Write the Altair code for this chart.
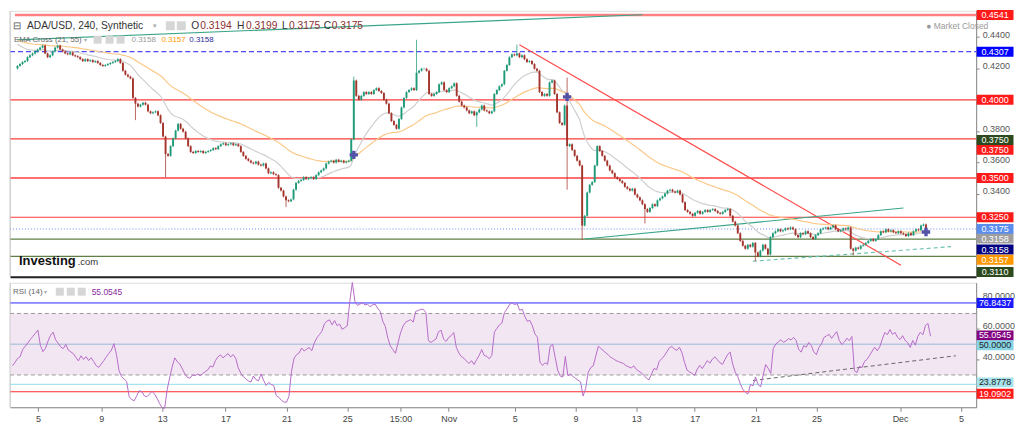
import altair as alt
import pandas as pd

FONT = "Liberation Sans"

# ---------------- data (4h candles, ADA/USD) ----------------
close = [
 0.4216,0.4228,0.4241,0.4247, 0.4272,0.4284,0.4296,0.4309, 0.4321,0.4333,0.4346,0.4296,
 0.4272,0.4284,0.4309,0.4333, 0.4346,0.4321,0.4309,0.4296, 0.4290,0.4303,0.4284,0.4278,
 0.4272,0.4259,0.4247,0.4259, 0.4247,0.4253,0.4241,0.4247, 0.4235,0.4222,0.4216,0.4222,
 0.4228,0.4235,0.4241,0.4247, 0.4259,0.4235,0.4185,0.4160, 0.4148,0.4136,0.4012,0.3975,
 0.3957,0.3969,0.3981,0.3969, 0.3926,0.3914,0.3920,0.3926, 0.3901,0.3852,0.3765,0.3654,
 0.3642,0.3704,0.3753,0.3803, 0.3846,0.3815,0.3796,0.3753, 0.3704,0.3667,0.3660,0.3673,
 0.3667,0.3673,0.3660,0.3667, 0.3673,0.3679,0.3691,0.3685, 0.3704,0.3716,0.3722,0.3710,
 0.3716,0.3722,0.3710,0.3716, 0.3704,0.3667,0.3642,0.3623, 0.3611,0.3599,0.3593,0.3605,
 0.3586,0.3580,0.3593,0.3562, 0.3531,0.3537,0.3525,0.3519, 0.3438,0.3420,0.3383,0.3358,
 0.3352,0.3364,0.3426,0.3469, 0.3482,0.3488,0.3506,0.3494, 0.3500,0.3506,0.3494,0.3519,
 0.3537,0.3549,0.3562,0.3593, 0.3605,0.3611,0.3599,0.3617, 0.3605,0.3611,0.3599,0.3605,
 0.3611,0.3747,0.4123,0.4025, 0.4000,0.4025,0.4049,0.4037, 0.4049,0.4037,0.4062,0.4074,
 0.4056,0.4043,0.4000,0.3975, 0.3914,0.3864,0.3840,0.3815, 0.3877,0.3951,0.4012,0.4049,
 0.4062,0.4074,0.4062,0.4173, 0.4185,0.4198,0.4198,0.4185, 0.4037,0.4025,0.4037,0.4049,
 0.4099,0.4111,0.4062,0.4049, 0.4074,0.4086,0.4105,0.4025, 0.3988,0.3963,0.3951,0.3932,
 0.3914,0.3926,0.3901,0.3920, 0.3938,0.3963,0.3932,0.3926, 0.3914,0.3926,0.4037,0.4062,
 0.4086,0.4099,0.4185,0.4222, 0.4272,0.4290,0.4284,0.4296, 0.4272,0.4284,0.4259,0.4241,
 0.4247,0.4228,0.4198,0.4185, 0.4049,0.4025,0.4037,0.4025, 0.4111,0.4123,0.4037,0.3920,
 0.3852,0.3840,0.3963,0.3704, 0.3716,0.3679,0.3642,0.3611, 0.3580,0.3197,0.3259,0.3408,
 0.3457,0.3475,0.3580,0.3704, 0.3673,0.3642,0.3611,0.3580, 0.3549,0.3531,0.3506,0.3494,
 0.3482,0.3469,0.3444,0.3432, 0.3420,0.3432,0.3395,0.3377, 0.3358,0.3333,0.3302,0.3284,
 0.3309,0.3333,0.3321,0.3358, 0.3370,0.3383,0.3401,0.3420, 0.3426,0.3414,0.3408,0.3420,
 0.3395,0.3346,0.3296,0.3284, 0.3272,0.3259,0.3278,0.3290, 0.3272,0.3284,0.3296,0.3284,
 0.3296,0.3302,0.3290,0.3278, 0.3272,0.3284,0.3296,0.3302, 0.3259,0.3222,0.3197,0.3148,
 0.3099,0.3068,0.3049,0.3074, 0.3062,0.3086,0.3025,0.3000, 0.3037,0.3074,0.3049,0.3012,
 0.3123,0.3148,0.3160,0.3173, 0.3160,0.3167,0.3179,0.3173, 0.3185,0.3173,0.3136,0.3123,
 0.3148,0.3142,0.3160,0.3148, 0.3123,0.3111,0.3136,0.3148, 0.3173,0.3179,0.3185,0.3173,
 0.3185,0.3197,0.3173,0.3160, 0.3167,0.3179,0.3173,0.3185, 0.3049,0.3037,0.3056,0.3049,
 0.3068,0.3074,0.3086,0.3099, 0.3111,0.3099,0.3111,0.3136, 0.3160,0.3154,0.3173,0.3160,
 0.3167,0.3154,0.3148,0.3160, 0.3148,0.3142,0.3130,0.3148, 0.3136,0.3160,0.3173,0.3167,
 0.3197,0.3204,0.3175,
]
first_open = 0.4200
wick_high = {134: 0.4148, 159: 0.4383, 199: 0.4352, 219: 0.4142}
wick_low = {47: 0.3870, 59: 0.3506, 107: 0.3315, 183: 0.3827, 219: 0.3426,
            225: 0.3105, 250: 0.3210, 294: 0.2969, 333: 0.3006}
ema21_seed, ema55_seed = 0.4370, 0.4385
rsi_seed_gain, rsi_seed_loss = 0.0009, 0.0016

tick_bars = [10, 35, 59, 84, 108, 132, 153, 172, 198, 222, 246, 269, 293, 317, 350, 374]
tick_labels = ["5", "9", "13", "17", "21", "25", "15:00", "Nov", "5", "9", "13", "17",
               "21", "25", "Dec", "5"]

cross_bars = [134, 219, 362]
cross_prices = [0.3648, 0.4018, 0.3156]

# horizontal levels: price, colour, width, dash
h_price = [0.4541, 0.4307, 0.4000, 0.3750, 0.3500, 0.3250, 0.3175, 0.3110, 0.3000]
h_color = ["#ff8080", "#4a4aff", "#ff3b3b", "#ff3b3b", "#ff6f6f", "#ff3b3b", "#6d8cf5", "#5f7f45", "#5f7f45"]
h_width = [2.5, 1.2, 1.2, 1.2, 2.0, 1.2, 1.0, 1.2, 1.2]
h_dash = [[], [5, 3], [], [], [], [], [1, 2], [], []]

# trend lines: bar0, price0, bar1, price1
t_b0 = [0, 200, 226, 293]
t_p0 = [0.4383, 0.4352, 0.3111, 0.2969]
t_b1 = [249, 352, 353, 372]
t_p1 = [0.4543, 0.2944, 0.3309, 0.3062]
t_color = ["#3aa58a", "#ff4a4a", "#3aa58a", "#6cc2b0"]
t_dash = [[], [], [], [4, 3]]

# right-hand price tags: text, value, background, shift(px)
tag_text = ["0.4541", "0.4307", "0.4000", "0.3750", "0.3750", "0.3500", "0.3250",
            "0.3175", "0.3158", "0.3158", "0.3157", "0.3110"]
tag_val = [0.4541, 0.4307, 0.4000, 0.3750, 0.3750, 0.3500, 0.3250,
           0.3175, 0.3158, 0.3158, 0.3157, 0.3110]
tag_bg = ["#ff1a1a", "#0000ff", "#ff1a1a", "#2d4a1e", "#ff1a1a", "#ff1a1a", "#ff1a1a",
          "#5b8def", "#9e9e9e", "#000080", "#ff9800", "#2d4a1e"]
tag_shift = [0, 0, 0, 1, 11, 0, 0, 0, 7, 18, 28, 33]

rsi_tag_text = ["76.8437", "55.0545", "50.0000", "23.8778", "19.0902"]
rsi_tag_val = [76.8437, 55.0545, 50.0, 23.8778, 19.0902]
rsi_tag_bg = ["#1a1aff", "#800080", "#86d4e4", "#a6e3ec", "#ff1a1a"]
rsi_tag_fg = ["white", "white", "#222", "#222", "white"]
rsi_tag_shift = [0, -1, 1, -2, 2]

# ---------------- derived ----------------
N = len(close)
opens = [first_open] + close[:-1]
highs, lows = [], []
for i, (o, c) in enumerate(zip(opens, close)):
    highs.append(wick_high.get(i, max(o, c) + 0.0006))
    lows.append(wick_low.get(i, min(o, c) - 0.0006))


def ema(vals, n, seed):
    a = 2 / (n + 1)
    e = seed
    out = []
    for v in vals:
        e = e + a * (v - e)
        out.append(e)
    return out


def rsi(vals, n, g0, l0):
    ag, al = g0, l0
    out = [100 - 100 / (1 + ag / al)]
    for k in range(1, len(vals)):
        d = vals[k] - vals[k - 1]
        ag = (ag * (n - 1) + max(d, 0)) / n
        al = (al * (n - 1) + max(-d, 0)) / n
        out.append(100 - 100 / (1 + ag / al) if al > 0 else 100)
    return out


df = pd.DataFrame({
    "i": list(range(N)), "open": opens, "high": highs, "low": lows, "close": close,
    "ema21": ema(close, 21, ema21_seed), "ema55": ema(close, 55, ema55_seed),
    "rsi": rsi(close, 14, rsi_seed_gain, rsi_seed_loss),
})

W, H1, H2 = 970, 267, 125
xscale = alt.Scale(domain=[-1, 380], nice=False, zero=False)
yscale = alt.Scale(domain=[0.2870, 0.4568], nice=False, zero=False)
rscale = alt.Scale(domain=[9, 90], nice=False, zero=False)

x_main_axis = alt.Axis(labels=False, ticks=False, title=None, grid=False,
                       domainColor="#222", domainWidth=2)
y_main_axis = alt.Axis(orient="right", values=[0.34, 0.36, 0.38, 0.42, 0.44], format=".4f",
                       labelColor="#555", labelFontSize=9, labelFont=FONT, tickSize=3,
                       tickColor="#888", domainColor="#888", grid=False, title=None,
                       labelPadding=3, labelOffset=-3)

label_expr = "".join(f"datum.value == {b} ? '{t}' : " for b, t in zip(tick_bars, tick_labels)) + "''"
x_rsi_axis = alt.Axis(values=tick_bars, labelExpr=label_expr, labelColor="#444",
                      labelFontSize=9, labelFont=FONT, tickSize=4, tickColor="#888",
                      domainColor="#888", grid=False, title=None, labelPadding=3)
y_rsi_axis = alt.Axis(orient="right", values=[40, 60, 80], format=".4f", labelColor="#555",
                      labelFontSize=9, labelFont=FONT, tickSize=3, tickColor="#888",
                      domainColor="#888", grid=False, title=None, labelPadding=3,
                      labelOffset=-3)

BOX = "M-1,-0.27L1,-0.27L1,0.27L-1,0.27Z"


def txt(s, x, y, color, size=9, weight="normal", align="left"):
    return alt.Chart(pd.DataFrame({"t": [s]})).mark_text(
        align=align, baseline="middle", fontSize=size, fontWeight=weight,
        color=color, font=FONT).encode(x=alt.value(x), y=alt.value(y), text="t:N")


def icon(x, y, s=9):
    return alt.Chart(pd.DataFrame({"t": [0]})).mark_point(
        shape="square", filled=True, size=s * s, color="#d6d6d6", opacity=1
    ).encode(x=alt.value(x), y=alt.value(y))


# ---------------- main panel ----------------
main_layers = []
hl = pd.DataFrame({"p": h_price, "xa": [-1] * len(h_price)})
for k in range(len(h_price)):
    mk = dict(color=h_color[k], strokeWidth=h_width[k])
    if h_dash[k]:
        mk["strokeDash"] = h_dash[k]
    if k == 0:
        main_layers.append(alt.Chart(hl.iloc[[k]]).mark_rule(**mk).encode(
            y=alt.Y("p:Q", scale=yscale, axis=y_main_axis),
            x=alt.X("xa:Q", scale=xscale, axis=x_main_axis), x2=alt.value(W)))
    else:
        main_layers.append(alt.Chart(hl.iloc[[k]]).mark_rule(**mk).encode(
            y=alt.Y("p:Q", scale=yscale), x=alt.value(0), x2=alt.value(W)))

tl = pd.DataFrame({"b0": t_b0, "p0": t_p0, "b1": t_b1, "p1": t_p1})
for k in range(len(t_b0)):
    mk = dict(color=t_color[k], strokeWidth=1.2)
    if t_dash[k]:
        mk["strokeDash"] = t_dash[k]
    main_layers.append(alt.Chart(tl.iloc[[k]]).mark_rule(**mk).encode(
        x=alt.X("b0:Q", scale=xscale), x2="b1:Q",
        y=alt.Y("p0:Q", scale=yscale), y2="p1:Q"))

main_layers.append(alt.Chart(df).mark_line(color="#cfcfcf", strokeWidth=1.2).encode(
    x=alt.X("i:Q", scale=xscale), y=alt.Y("ema21:Q", scale=yscale)))
main_layers.append(alt.Chart(df).mark_line(color="#fbc888", strokeWidth=1.2).encode(
    x=alt.X("i:Q", scale=xscale), y=alt.Y("ema55:Q", scale=yscale)))

up_c, dn_c = "#1f9a78", "#a3342c"
main_layers.append(alt.Chart(df).mark_rule(strokeWidth=1, opacity=0.75).encode(
    x=alt.X("i:Q", scale=xscale), y=alt.Y("low:Q", scale=yscale), y2="high:Q",
    color=alt.condition("datum.close >= datum.open", alt.value(up_c), alt.value(dn_c))))
main_layers.append(alt.Chart(df).mark_bar(size=1.9).encode(
    x=alt.X("i:Q", scale=xscale), y=alt.Y("open:Q", scale=yscale), y2="close:Q",
    color=alt.condition("datum.close >= datum.open", alt.value(up_c), alt.value(dn_c))))

cr = pd.DataFrame({"b": cross_bars, "p": cross_prices})
main_layers.append(alt.Chart(cr).mark_point(shape="cross", filled=True, size=70,
                                            color="#5252a8", opacity=1).encode(
    x=alt.X("b:Q", scale=xscale), y=alt.Y("p:Q", scale=yscale)))

# left border
main_layers.append(alt.Chart(pd.DataFrame({"t": [0]})).mark_rule(color="#cccccc").encode(
    x=alt.value(0), y=alt.value(0), y2=alt.value(H1)))

# header texts
HF = 10.3
main_layers += [
    txt("⊟", 3, 15, "#555", 10),
    txt("ADA/USD, 240, Synthetic", 17, 15, "#333", HF),
    txt("▾", 144, 15, "#aaa", 7),
    icon(161, 15), icon(172, 15),
    txt("O", 182, 15, "#333", HF), txt("0.3194", 191, 15, "#8b2e2e", HF),
    txt("H", 228, 15, "#333", HF), txt("0.3199", 237, 15, "#8b2e2e", HF),
    txt("L", 273, 15, "#333", HF), txt("0.3175", 280, 15, "#8b2e2e", HF),
    txt("C", 315, 15, "#333", HF), txt("0.3175", 323, 15, "#8b2e2e", HF),
    txt("EMA Cross (21, 55)", 4, 29, "#666", 7.8),
    txt("▾", 74, 29, "#aaa", 6.5),
    icon(88, 29, 8), icon(100, 29, 8), icon(111, 29, 8),
    txt("0.3158", 122, 29, "#9a9a9a", 8),
    txt("0.3157", 152, 29, "#ff9800", 8),
    txt("0.3158", 180, 29, "#2b2b9a", 8),
    txt("● Market Closed", 920, 15, "#999", 8.5),
    txt("Investing", 9, 251, "#111", 13, "bold"),
    txt(".com", 68, 252, "#333", 9.5),
]

# right-hand price tags
tags = pd.DataFrame({"t": tag_text, "v": tag_val})
for k in range(len(tag_text)):
    row = tags.iloc[[k]]
    main_layers.append(alt.Chart(row).mark_point(
        shape=BOX, filled=True, size=37 * 37, color=tag_bg[k], opacity=1,
        yOffset=tag_shift[k]).encode(x=alt.value(W + 19), y=alt.Y("v:Q", scale=yscale)))
    main_layers.append(alt.Chart(row).mark_text(
        fontSize=9, color="white", font=FONT, align="center", baseline="middle",
        yOffset=tag_shift[k]).encode(x=alt.value(W + 19), y=alt.Y("v:Q", scale=yscale),
                                     text="t:N"))

main = alt.layer(*main_layers).properties(width=W, height=H1)

# ---------------- RSI panel ----------------
rsi_layers = []
band = pd.DataFrame({"lo": [30], "hi": [70]})
rsi_layers.append(alt.Chart(band).mark_rect(color="#f3e6f3").encode(
    x=alt.value(0), x2=alt.value(W),
    y=alt.Y("lo:Q", scale=rscale, axis=y_rsi_axis), y2="hi:Q"))
for lvl, col, wd, dash in [(70, "#9a9a9a", 1, [4, 3]), (30, "#9a9a9a", 1, [4, 3]),
                           (50, "#b7c7e0", 1.5, []), (76.8437, "#2a2aff", 1, []),
                           (23.8778, "#a6e3ec", 1.5, []), (19.0902, "#ff2a2a", 1.2, [])]:
    mk = dict(color=col, strokeWidth=wd)
    if dash:
        mk["strokeDash"] = dash
    rsi_layers.append(alt.Chart(pd.DataFrame({"v": [lvl]})).mark_rule(**mk).encode(
        y=alt.Y("v:Q", scale=rscale), x=alt.value(0), x2=alt.value(W)))

rsi_trend = pd.DataFrame({"b0": [292], "r0": [26.4], "b1": [372], "r1": [42.5]})
rsi_layers.append(alt.Chart(rsi_trend).mark_rule(color="#666", strokeWidth=1,
                                                 strokeDash=[4, 3]).encode(
    x=alt.X("b0:Q", scale=xscale), x2="b1:Q", y=alt.Y("r0:Q", scale=rscale), y2="r1:Q"))

rsi_layers.append(alt.Chart(df).mark_line(color="#b66cc8", strokeWidth=1).encode(
    x=alt.X("i:Q", scale=xscale, axis=x_rsi_axis), y=alt.Y("rsi:Q", scale=rscale)))

rsi_layers.append(alt.Chart(pd.DataFrame({"t": [0]})).mark_rule(color="#cccccc").encode(
    x=alt.value(0), y=alt.value(0), y2=alt.value(H2)))

rsi_layers += [
    txt("RSI (14)", 3, 9, "#666", 8),
    txt("▾", 34, 9, "#aaa", 6.5),
    icon(50, 9, 8), icon(61, 9, 8), icon(72, 9, 8),
    txt("55.0545", 82, 9, "#8a2a9a", 8.5),
]

rt = pd.DataFrame({"t": rsi_tag_text, "v": rsi_tag_val})
for k in range(len(rsi_tag_text)):
    row = rt.iloc[[k]]
    rsi_layers.append(alt.Chart(row).mark_point(
        shape=BOX, filled=True, size=37 * 37, color=rsi_tag_bg[k], opacity=1,
        yOffset=rsi_tag_shift[k]).encode(
        x=alt.value(W + 19), y=alt.Y("v:Q", scale=rscale)))
    rsi_layers.append(alt.Chart(row).mark_text(
        fontSize=9, color=rsi_tag_fg[k], font=FONT, align="center", baseline="middle",
        yOffset=rsi_tag_shift[k]).encode(
        x=alt.value(W + 19), y=alt.Y("v:Q", scale=rscale), text="t:N"))

rsi_panel = alt.layer(*rsi_layers).properties(width=W, height=H2)

chart = alt.vconcat(main, rsi_panel, spacing=2).properties(padding=0).configure_view(
    stroke=None).configure(font=FONT)

chart.save("out.html", embed_options={"renderer": "svg", "actions": False})
